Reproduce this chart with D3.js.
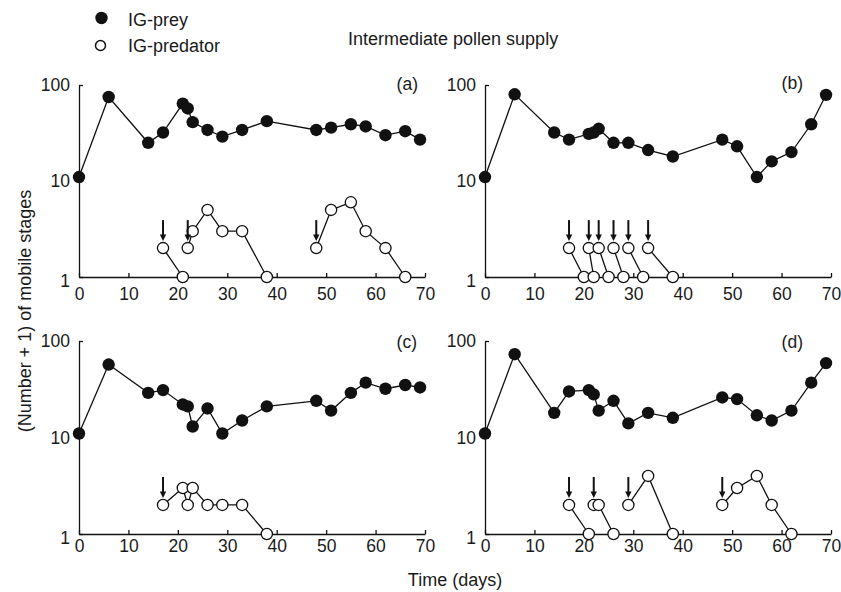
<!DOCTYPE html>
<html>
<head>
<meta charset="utf-8">
<script src="https://cdn.jsdelivr.net/npm/d3@7"></script>
<style>
  body { margin: 0; background: #fff; }
  svg text { font-family: "Liberation Sans", Arial, Helvetica, sans-serif; fill: #1a1a1a; }
</style>
</head>
<body>
<svg id="chart" width="841" height="592"></svg>
<script>
// sampling days (same for every treatment)
var days = [0, 6, 14, 17, 21, 22, 23, 26, 29, 33, 38, 48, 51, 55, 58, 62, 66, 69];

// IG-prey, (number + 1) of mobile stages
var preyA = [11, 75, 25, 32, 64, 57, 41, 34, 29, 34, 42, 34, 36, 39, 37, 30, 33, 27];
var preyB = [11, 80, 32, 27, 31, 32, 35, 25, 25, 21, 18, 27, 23, 11, 16, 20, 39, 79];
var preyC = [11, 57, 29, 31, 22, 21, 13, 20, 11, 15, 21, 24, 19, 29, 37, 32, 35, 33];
var preyD = [11, 73, 18, 30, 31, 28, 19, 24, 14, 18, 16, 26, 25, 17, 15, 19, 37, 59];

// IG-predator: days, values and run index (points of one run are joined)
var predDaysA = [17, 21, 22, 23, 26, 29, 33, 38, 48, 51, 55, 58, 62, 66];
var predValsA = [2, 1, 2, 3, 5, 3, 3, 1, 2, 5, 6, 3, 2, 1];
var predRunA  = [0, 0, 1, 1, 1, 1, 1, 1, 2, 2, 2, 2, 2, 2];

var predDaysB = [17, 20, 21, 22, 23, 25, 26, 28, 29, 32, 33, 38];
var predValsB = [2, 1, 2, 1, 2, 1, 2, 1, 2, 1, 2, 1];
var predRunB  = [0, 0, 1, 1, 2, 2, 3, 3, 4, 4, 5, 5];

var predDaysC = [17, 21, 22, 23, 26, 29, 33, 38];
var predValsC = [2, 3, 2, 3, 2, 2, 2, 1];
var predRunC  = [0, 0, 0, 0, 0, 0, 0, 0];

var predDaysD = [17, 21, 22, 23, 26, 29, 33, 38, 48, 51, 55, 58, 62];
var predValsD = [2, 1, 2, 2, 1, 2, 4, 1, 2, 3, 4, 2, 1];
var predRunD  = [0, 0, 1, 1, 1, 2, 2, 2, 3, 3, 3, 3, 3];

// release days of IG-predators (arrows), each released at value 2
var releaseA = [17, 22, 48];
var releaseB = [17, 21, 23, 26, 29, 33];
var releaseC = [17];
var releaseD = [17, 22, 29, 48];
var releaseVal = 2;

var xTicks = [0, 10, 20, 30, 40, 50, 60, 70];
var yTicks = [1, 10, 100];
var panelLabels = ["(a)", "(b)", "(c)", "(d)"];

var svg = d3.select("#chart");
var ink = "#111";

var panels = [
  {x0: 79,  top: 85,  bottom: 277, pad: 11, label: panelLabels[0], lx: 418, ly: 90,  prey: preyA, pd: predDaysA, pv: predValsA, pr: predRunA, rel: releaseA},
  {x0: 485, top: 85,  bottom: 277, pad: 11, label: panelLabels[1], lx: 803, ly: 89,  prey: preyB, pd: predDaysB, pv: predValsB, pr: predRunB, rel: releaseB},
  {x0: 79,  top: 341, bottom: 534, pad: 6,  label: panelLabels[2], lx: 417, ly: 348, prey: preyC, pd: predDaysC, pv: predValsC, pr: predRunC, rel: releaseC},
  {x0: 485, top: 341, bottom: 534, pad: 6,  label: panelLabels[3], lx: 803, ly: 348, prey: preyD, pd: predDaysD, pv: predValsD, pr: predRunD, rel: releaseD}
];

panels.forEach(function(p) {
  var x = d3.scaleLinear().domain([0, 70]).range([p.x0, p.x0 + 346]);
  var y = d3.scaleLog().domain([1, 100]).range([p.bottom, p.top]);
  var g = svg.append("g");

  // axes
  var xa = g.append("g")
      .attr("transform", "translate(0," + p.bottom + ")")
      .call(d3.axisBottom(x).tickValues(xTicks).tickSizeInner(-4).tickSizeOuter(0).tickPadding(p.pad));
  var ya = g.append("g")
      .attr("transform", "translate(" + p.x0 + ",0)")
      .call(d3.axisLeft(y).tickValues(yTicks).tickFormat(d3.format("d")).tickSizeInner(-4).tickSizeOuter(0).tickPadding(9));
  [xa, ya].forEach(function(a) {
    a.attr("font-size", null).attr("font-family", null);
    a.select(".domain").attr("stroke", ink).attr("stroke-width", 1.3);
    a.selectAll(".tick line").attr("stroke", ink).attr("stroke-width", 1.3);
    a.selectAll(".tick text").style("font-size", "17.5px").attr("fill", "#1a1a1a");
  });
  // the "1" sits a little below the axis corner
  ya.selectAll(".tick text").filter(function(d) { return d === 1; }).attr("dy", "0.55em");

  g.append("text")
      .attr("x", p.lx).attr("y", p.ly)
      .attr("text-anchor", "end")
      .style("font-size", "17.5px")
      .text(p.label);

  // IG-predator runs
  var pts = p.pd.map(function(d, i) { return {day: d, val: p.pv[i], run: p.pr[i]}; });
  var runs = d3.groups(pts, function(d) { return d.run; });
  var line = d3.line().x(function(d) { return x(d.day); }).y(function(d) { return y(d.val); });

  g.selectAll(".predLine").data(runs).enter().append("path")
      .attr("d", function(r) { return line(r[1]); })
      .attr("fill", "none").attr("stroke", ink).attr("stroke-width", 1.3);

  g.selectAll(".pred").data(pts).enter().append("circle")
      .attr("cx", function(d) { return x(d.day); })
      .attr("cy", function(d) { return y(d.val); })
      .attr("r", 5.6)
      .attr("fill", "#fff").attr("stroke", ink).attr("stroke-width", 1.3);

  // release arrows
  var ry = y(releaseVal);
  p.rel.forEach(function(d) {
    var ax = x(d);
    g.append("line")
        .attr("x1", ax).attr("x2", ax)
        .attr("y1", ry - 28).attr("y2", ry - 12)
        .attr("stroke", ink).attr("stroke-width", 2);
    g.append("path")
        .attr("d", "M" + (ax - 3.2) + "," + (ry - 13.5) + "L" + (ax + 3.2) + "," + (ry - 13.5) + "L" + ax + "," + (ry - 7) + "Z")
        .attr("fill", ink);
  });

  // IG-prey
  var preyLine = d3.line().x(function(d, i) { return x(days[i]); }).y(function(d) { return y(d); });
  g.append("path")
      .attr("d", preyLine(p.prey))
      .attr("fill", "none").attr("stroke", ink).attr("stroke-width", 1.3);
  g.selectAll(".prey").data(p.prey).enter().append("circle")
      .attr("cx", function(d, i) { return x(days[i]); })
      .attr("cy", function(d) { return y(d); })
      .attr("r", 6.2)
      .attr("fill", ink);
});

// legend
svg.append("circle").attr("cx", 101.5).attr("cy", 18).attr("r", 6.2).attr("fill", ink);
svg.append("circle").attr("cx", 100.5).attr("cy", 45.5).attr("r", 5).attr("fill", "#fff")
    .attr("stroke", ink).attr("stroke-width", 1.5);
svg.append("text").attr("x", 128).attr("y", 26).style("font-size", "18px").text("IG-prey");
svg.append("text").attr("x", 128).attr("y", 52).style("font-size", "18px").text("IG-predator");

// titles
svg.append("text").attr("x", 348).attr("y", 45).style("font-size", "18px").text("Intermediate pollen supply");
svg.append("text").attr("x", 455).attr("y", 586).attr("text-anchor", "middle")
    .style("font-size", "18px").text("Time (days)");
svg.append("text")
    .attr("transform", "translate(31,311) rotate(-90)")
    .attr("text-anchor", "middle")
    .style("font-size", "18px")
    .text("(Number + 1) of mobile stages");
</script>
</body>
</html>
